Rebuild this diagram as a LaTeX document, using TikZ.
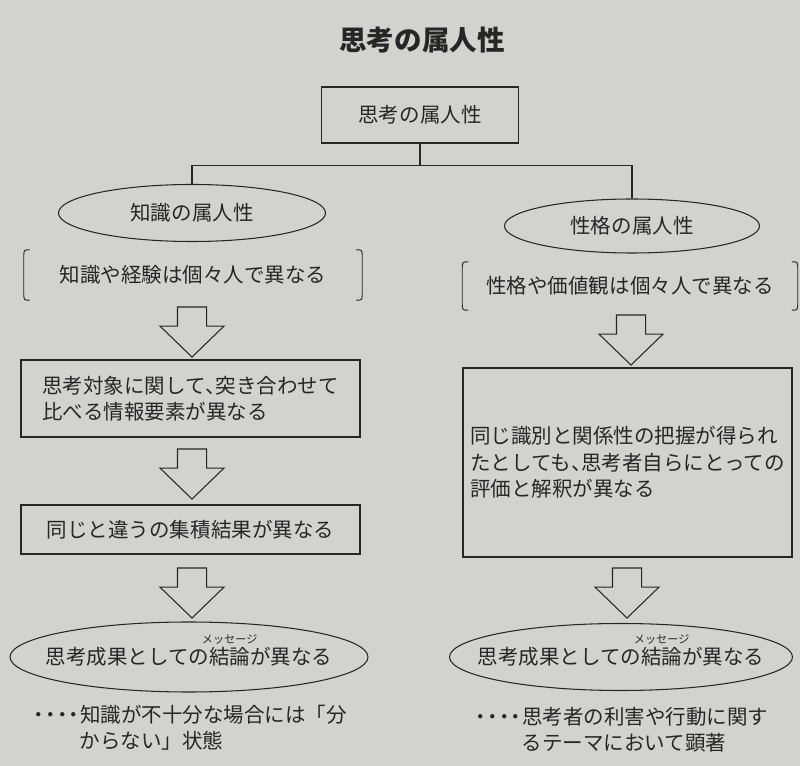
\documentclass[tikz,border=0pt]{standalone}
\usepackage{fontspec}
\setmainfont{Noto Sans CJK JP}
\usetikzlibrary{positioning,shapes,arrows.meta,calc}
\definecolor{paper}{RGB}{210,210,206}
\definecolor{ink}{RGB}{38,38,38}
% ruby over a word, and compressed punctuation
\newcommand{\furigana}[2]{\leavevmode\setbox0\hbox{#1}\makebox[0pt][l]{\makebox[\wd0][c]{\raisebox{1.05em}[0pt][0pt]{\fontsize{9.5}{10}\selectfont #2}}}#1}
\newcommand{\dotlead}{\makebox[0.57em][c]{・}\makebox[0.57em][c]{・}\makebox[0.57em][c]{・}\makebox[0.57em][c]{・}}
\newcommand{\tten}{\makebox[0.5em][l]{、}}
\newcommand{\slim}[1]{\makebox[0pt][c]{#1}}

\begin{document}
\begin{tikzpicture}[x=0.03cm, y=-0.03cm,
    font=\fontsize{17.5}{22.5}\selectfont,
    every node/.style={text=ink},
    box/.style={draw=ink, line width=0.9pt, rectangle, inner sep=0pt},
    oval/.style={draw=ink, line width=0.9pt, ellipse, inner sep=0pt},
    downarrow/.style={draw=ink, line width=0.9pt, single arrow, shape border rotate=270,
        minimum height=1.5cm, minimum width=1.89cm, single arrow head extend=0.525cm,
        single arrow tip angle=92, inner xsep=0.42cm, inner ysep=0pt},
    link/.style={draw=ink, line width=0.9pt},
    paren/.style={draw=ink, line width=0.8pt}]

    \useasboundingbox (0,0) rectangle (800,766);
    \fill[paper] (0,0) rectangle (800,766);

    \node[font=\fontsize{23.5}{28}\selectfont\bfseries] (title) at (422,40) {思考の属人性};

    \node[box, minimum width=5.91cm, minimum height=1.68cm] (top) at (420,115) {思考の属人性};
    \node[oval, minimum width=8.01cm, minimum height=1.71cm] (know) at (192,213) {\slim{知識の属人性}};
    \node[oval, minimum width=7.65cm, minimum height=1.62cm] (trait) at (632,226) {\slim{性格の属人性}};
    \draw[link] (top.south) -- ++(0,22) coordinate (fork) -| (know.north);
    \draw[link] (fork) -| (trait.north);

    % why it differs
    \node[minimum width=10.14cm, minimum height=1.5cm] (knowwhy) at (193,275) {知識や経験は個々人で異なる};
    \node[minimum width=10.05cm, minimum height=1.44cm] (traitwhy) at (630,286) {性格や価値観は個々人で異なる};
    \foreach \b in {knowwhy,traitwhy} {
        \draw[paren] ($(\b.north west)+(6,0)$) .. controls (\b.north west) .. ($(\b.north west)+(0,8)$)
            -- ($(\b.south west)+(0,-8)$) .. controls (\b.south west) .. ($(\b.south west)+(6,0)$);
        \draw[paren] ($(\b.north east)+(-6,0)$) .. controls (\b.north east) .. ($(\b.north east)+(0,8)$)
            -- ($(\b.south east)+(0,-8)$) .. controls (\b.south east) .. ($(\b.south east)+(-6,0)$);
    }

    % knowledge side
    \node[downarrow] (ka1) at (192,325) {};
    \node[box, minimum width=10.17cm, minimum height=2.31cm, align=left] (kb1) at (190.5,398.5)
        {思考対象に関して\tten 突き合わせて\\比べる情報要素が異なる};
    \node[downarrow] (ka2) at (192,467) {};
    \node[box, minimum width=10.17cm, minimum height=1.47cm] (kb2) at (190.5,529.5) {同じと違うの集積結果が異なる};
    \node[downarrow] (ka3) at (192,586) {};
    \node[oval, minimum width=10.74cm, minimum height=2.1cm] (kend) at (189,657)
        {\slim{思考成果としての\furigana{結論}{メッセージ}が異なる}};
    \node[anchor=west, align=left, inner sep=0pt] (knote) at (33,728)
        {\dotlead 知識が不十分な場合には「分\\\hspace*{2.28em}からない」状態};

    % personality side
    \node[downarrow] (ta1) at (631,333) {};
    \node[box, minimum width=9.87cm, minimum height=5.67cm, align=left] (tb1) at (627.5,462.5)
        {同じ識別と関係性の把握が得られ\\たとしても\tten 思考者自らにとっての\\評価と解釈が異なる};
    \node[downarrow] (ta2) at (627,586) {};
    \node[oval, minimum width=10.29cm, minimum height=2.01cm] (tend) at (621,657)
        {\slim{思考成果としての\furigana{結論}{メッセージ}が異なる}};
    \node[anchor=west, align=left, inner sep=0pt] (tnote) at (475,730)
        {\dotlead 思考者の利害や行動に関す\\\hspace*{2.28em}るテーマにおいて顕著};
\end{tikzpicture}
\end{document}
